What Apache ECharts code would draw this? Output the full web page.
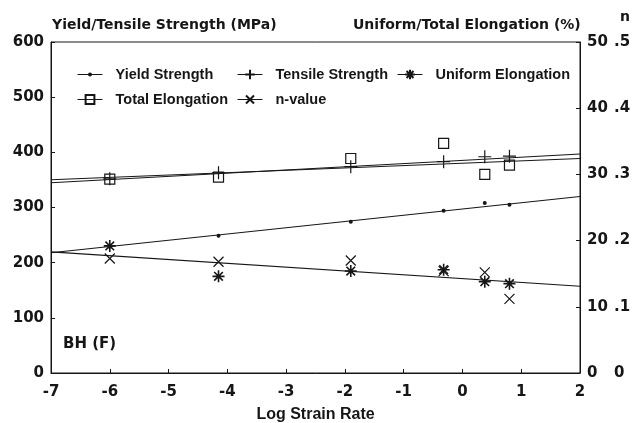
<!DOCTYPE html>
<html>
<head>
<meta charset="utf-8">
<script src="https://cdn.jsdelivr.net/npm/echarts@6/dist/echarts.min.js"></script>
<style>
  html, body { margin: 0; padding: 0; background: #fff; }
  #chart { width: 637px; height: 423px; }
</style>
</head>
<body>
<div id="chart"></div>
<script>
// Measured mechanical properties of BH (F) steel versus log strain rate
const strainRate        = [-6, -4.15, -1.9, -0.32, 0.38, 0.8];
const yieldStrength     = [229, 249, 274, 294, 308, 305];      // MPa
const tensileStrength   = [352, 363, 374, 383, 392, 393];      // MPa
const uniformElongation = [19.2, 14.6, 15.4, 15.6, 13.8, 13.5]; // %
const totalElongation   = [29.3, 29.6, 32.4, 34.7, 30.0, 31.4]; // %
const nValue            = [0.173, 0.168, 0.170, 0.154, 0.152, 0.112];

// Regression lines, given at both ends of the strain-rate range
const fitRange   = [-7, 2];
const yieldFit   = [218, 320];   // MPa
const tensileFit = [345, 397];   // MPa
const totalFit   = [29.2, 32.4]; // %
const uniformFit = [18.3, 13.1]; // %

const INK = '#161616';
const WIDE = 'DejaVu Sans';
const NARROW = 'Liberation Sans';

const pairs = (xs, ys) => xs.map((x, i) => [x, ys[i]]);

const plusPath = 'path://M5,0L5,10M0,5L10,5';
const crossPath = 'path://M0,0L10,10M10,0L0,10';
const starPath = 'path://M5,0L5,10M0,5L10,5M1.4,1.4L8.6,8.6M8.6,1.4L1.4,8.6';

function pointSeries(name, ys, yAxisIndex, symbol, size, extra) {
  return Object.assign({
    name, type: 'line', yAxisIndex,
    data: pairs(strainRate, ys),
    symbol, symbolSize: size, showSymbol: true,
    lineStyle: { opacity: 0 },
    itemStyle: { color: 'none', borderColor: INK, borderWidth: 1.2 },
    z: 5, silent: true, animation: false
  }, extra || {});
}

function fitSeries(ys, yAxisIndex) {
  return {
    type: 'line', yAxisIndex,
    data: pairs(fitRange, ys),
    symbol: 'none',
    lineStyle: { color: INK, width: 1.1 },
    z: 3, silent: true, animation: false
  };
}

const legendText = { fontFamily: NARROW, fontWeight: 'bold', fontSize: 14.5, color: INK, padding: [0, 0, 0, 8] };
function legendAt(name, left, top, iconH) {
  return {
    data: [name], left, top, itemWidth: 25, itemHeight: iconH,
    textStyle: legendText, selectedMode: false,
    lineStyle: { color: INK, width: 1, opacity: 1 }
  };
}

const tickFont = { fontFamily: WIDE, fontWeight: 'bold', fontSize: 15, color: INK };
const yLine = { show: true, onZero: false, lineStyle: { color: INK, width: 1 } };
const yTick = { show: true, inside: true, length: 4, lineStyle: { color: INK } };

const chart = echarts.init(document.getElementById('chart'));
chart.setOption({
  backgroundColor: '#fff',
  animation: false,
  grid: {
    left: 51, right: 57, top: 42, bottom: 50,
    containLabel: false, outerBoundsMode: 'none',
    show: true, borderColor: INK, borderWidth: 1
  },
  legend: [
    legendAt('Yield Strength', 72, 62, 5),
    legendAt('Tensile Strength', 232, 62, 12),
    legendAt('Uniform Elongation', 392, 62, 12),
    legendAt('Total Elongation', 72, 87, 11),
    legendAt('n-value', 232, 87, 10)
  ],
  xAxis: {
    type: 'value', min: -7, max: 2, interval: 1,
    name: 'Log Strain Rate', nameLocation: 'middle', nameGap: 34,
    nameTextStyle: { fontFamily: NARROW, fontWeight: 'bold', fontSize: 16, color: INK },
    axisLine: { onZero: false, lineStyle: { color: INK, width: 1 } },
    axisTick: { inside: true, length: 4, lineStyle: { color: INK } },
    axisLabel: Object.assign({ margin: 12 }, tickFont),
    splitLine: { show: false }
  },
  yAxis: [
    {
      type: 'value', min: 0, max: 600, interval: 100, position: 'left',
      axisLine: yLine, axisTick: yTick,
      axisLabel: Object.assign({ margin: 7 }, tickFont),
      splitLine: { show: false }
    },
    {
      type: 'value', min: 0, max: 50, interval: 10, position: 'right',
      axisLine: yLine, axisTick: yTick,
      axisLabel: Object.assign({ margin: 7 }, tickFont),
      splitLine: { show: false }
    },
    {
      type: 'value', min: 0, max: 0.5, interval: 0.1, position: 'right', offset: 27,
      axisLine: { show: false, onZero: false }, axisTick: { show: false },
      axisLabel: Object.assign({
        margin: 7,
        formatter: v => (v === 0 ? '0' : v.toFixed(1).replace(/^0/, ''))
      }, tickFont),
      splitLine: { show: false }
    }
  ],
  graphic: [
    { type: 'text', left: 52, top: 18, style: { text: 'Yield/Tensile Strength (MPa)', font: 'bold 14px "DejaVu Sans"', fill: INK } },
    { type: 'text', left: 353, top: 18, style: { text: 'Uniform/Total Elongation (%)', font: 'bold 14px "DejaVu Sans"', fill: INK } },
    { type: 'text', left: 620, top: 10, style: { text: 'n', font: 'bold 14px "DejaVu Sans"', fill: INK } },
    { type: 'text', left: 63, top: 337, style: { text: 'BH (F)', font: 'bold 15px "DejaVu Sans"', fill: INK } }
  ],
  series: [
    fitSeries(yieldFit, 0),
    fitSeries(tensileFit, 0),
    fitSeries(totalFit, 1),
    fitSeries(uniformFit, 1),
    pointSeries('Yield Strength', yieldStrength, 0, 'circle', 4,
      { itemStyle: { color: INK, borderColor: INK, borderWidth: 0 } }),
    pointSeries('Tensile Strength', tensileStrength, 0, plusPath, 13),
    pointSeries('Uniform Elongation', uniformElongation, 1, starPath, 12,
      { itemStyle: { color: 'none', borderColor: INK, borderWidth: 1.6 } }),
    pointSeries('Total Elongation', totalElongation, 1, 'rect', 10),
    pointSeries('n-value', nValue, 2, crossPath, 10)
  ]
});
</script>
</body>
</html>
